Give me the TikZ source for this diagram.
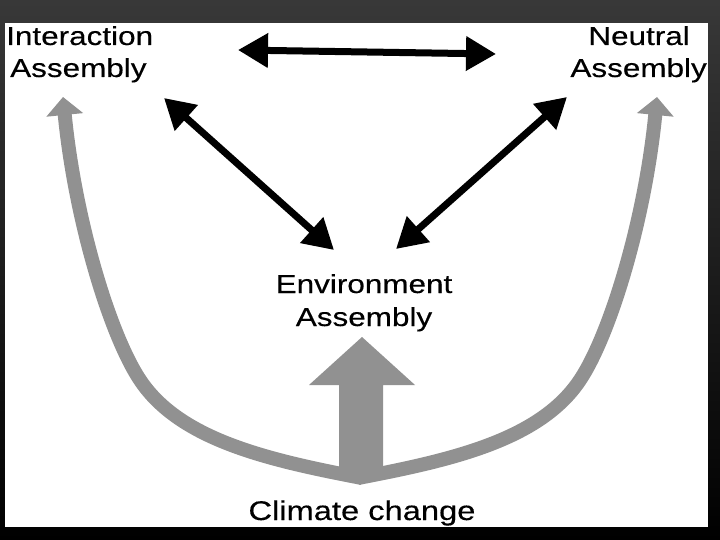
\documentclass[tikz,border=0pt]{standalone}
\usepackage{fontspec}
\setmainfont{Liberation Sans}[FakeStretch=1.21,FakeBold=0.3]
\usetikzlibrary{arrows.meta}
\definecolor{grayarrow}{RGB}{145,145,145}
\begin{document}
\begin{tikzpicture}[x=1pt,y=-1pt,
  lbl/.style={inner sep=0pt, font=\fontsize{26}{32}\selectfont},
  blk/.style={line width=7pt, {Triangle[width=33pt,length=30pt]}-{Triangle[width=33pt,length=30pt]}},
  gcurve/.style={draw=grayarrow, line width=14pt, -{Triangle[width=36pt,length=18pt]}},
]
\useasboundingbox (0,0) rectangle (720,540);
\shade[top color=black!78, bottom color=black] (0,0) rectangle (720,540);
\fill[white] (5,23) rectangle (708,527);

% texts
\node[lbl, anchor=base west] (ia1) at (6,45) {Interaction};
\node[lbl, anchor=base west] (ia2) at (10,77) {Assembly};
\node[lbl, anchor=base east] (na1) at (690,45) {Neutral};
\node[lbl, anchor=base east] (na2) at (707,77) {Assembly};
\node[lbl, anchor=base] (ea1) at (364,293) {Environment};
\node[lbl, anchor=base] (ea2) at (364,326) {Assembly};
\node[lbl, anchor=base, font=\fontsize{27}{32}\selectfont] (cc) at (362,520) {Climate change};

% arrow end points
\coordinate (tl) at (238,50);
\coordinate (tr) at (496,54);
\coordinate (dl1) at (164,98);
\coordinate (dl2) at (334,250);
\coordinate (dr1) at (567,97);
\coordinate (dr2) at (396,249);
\coordinate (cl) at (63,97);
\coordinate (cr) at (657,97);
\coordinate (bl) at (362,478);
\coordinate (br) at (358,478);

\draw[blk] (tl) -- (tr);
\draw[blk] (dl1) -- (dl2);
\draw[blk] (dr1) -- (dr2);

% gray curved arrows
\draw[gcurve] (bl) .. controls (268,460) and (180,440) .. (140,380)
  .. controls (110,335) and (75,220) .. (cl);
\draw[gcurve] (br) .. controls (452,460) and (540,440) .. (580,380)
  .. controls (610,335) and (645,220) .. (cr);

% big gray arrow
\fill[grayarrow] (339,478) -- (339,385) -- (309,385) -- (362,337) -- (415,385) -- (383,385) -- (383,478) -- cycle;
\end{tikzpicture}
\end{document}
